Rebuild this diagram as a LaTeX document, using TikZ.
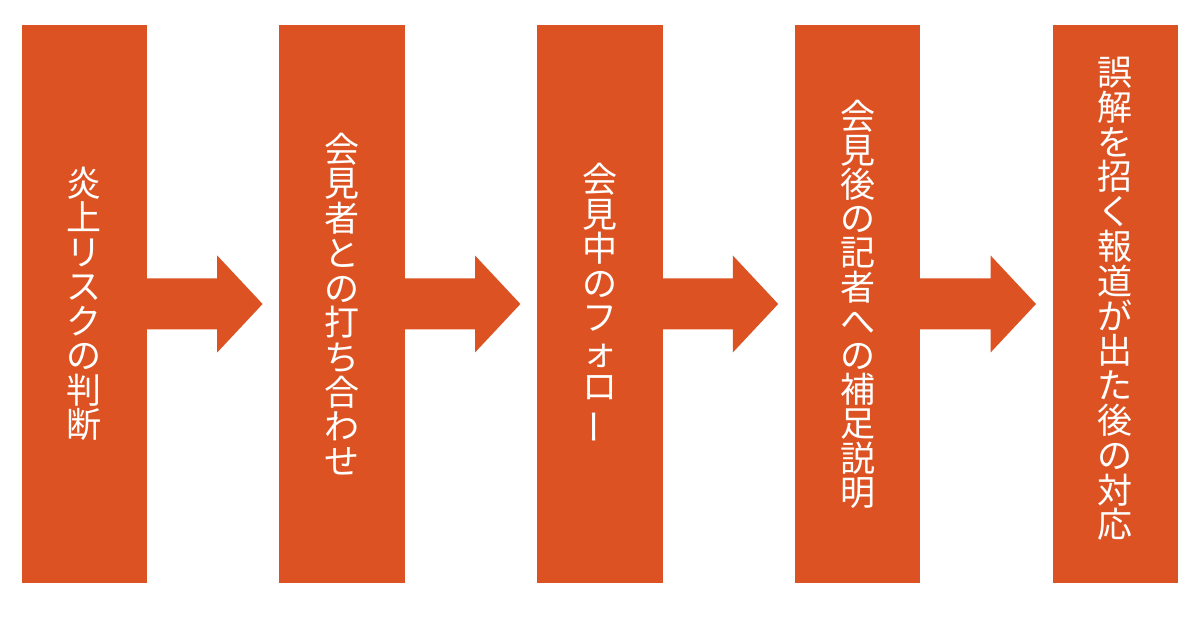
\documentclass[tikz,border=0pt]{standalone}
\usepackage{fontspec}
\usepackage{graphicx}
\newfontfamily\jpfont{Noto Sans CJK JP}
\definecolor{boxorange}{RGB}{221,82,34}
\newcommand\vtxt[2]{\vbox{\baselineskip=#1\lineskiplimit=-100pt\lineskip=0pt\halign{\hfil##\hfil\cr#2\crcr}}}
\newcommand\vbar{\rotatebox[origin=c]{90}{ー}}
\begin{document}
\begin{tikzpicture}[x=1pt,y=1pt,
  stepbox/.style={rectangle, inner sep=0pt, minimum width=125.5pt, minimum height=558pt,
    fill=boxorange, text=white, font=\jpfont\fontsize{35}{35}\selectfont},
  arr/.style={fill=boxorange, draw=none}]
\useasboundingbox (0,0) rectangle (1200,630);
\fill[white] (0,0) rectangle (1200,630);
\node[stepbox] (b1) at (84.25,326) {\vtxt{34.5pt}{炎\cr 上\cr リ\cr ス\cr ク\cr の\cr 判\cr 断}};
\node[stepbox] (b2) at (342.05,326) {\vtxt{34.7pt}{会\cr 見\cr 者\cr と\cr の\cr 打\cr ち\cr 合\cr わ\cr せ}};
\node[stepbox] (b3) at (599.85,326) {\vtxt{34.5pt}{会\cr 見\cr 中\cr の\cr フ\cr ォ\cr ロ\cr \vbar}};
\node[stepbox] (b4) at (857.65,326) {\vtxt{34.2pt}{会\cr 見\cr 後\cr の\cr 記\cr 者\cr へ\cr の\cr 補\cr 足\cr 説\cr 明}};
\node[stepbox] (b5) at (1115.45,326) {\raisebox{13pt}{\vtxt{34.8pt}{誤\cr 解\cr を\cr 招\cr く\cr 報\cr 道\cr が\cr 出\cr た\cr 後\cr の\cr 対\cr 応}}};
\foreach \a/\b in {b1/b2,b2/b3,b3/b4,b4/b5}{
  \fill[arr] ([xshift=-1pt,yshift=25.5pt]\a.east) -- ([xshift=70pt,yshift=25.5pt]\a.east)
    -- ([xshift=70pt,yshift=48.5pt]\a.east) -- ([xshift=-16.5pt]\b.west)
    -- ([xshift=70pt,yshift=-48.5pt]\a.east) -- ([xshift=70pt,yshift=-25.5pt]\a.east)
    -- ([xshift=-1pt,yshift=-25.5pt]\a.east) -- cycle;
}
\end{tikzpicture}
\end{document}
